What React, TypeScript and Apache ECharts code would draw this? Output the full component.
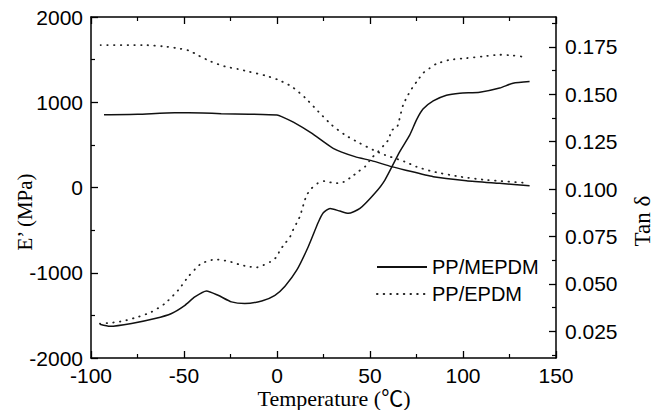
import React, { useEffect, useRef } from "react";
import * as echarts from "echarts";

// ---- Data ----
// Storage modulus E' (MPa), left axis
const mepdmETemp = [-93, -75, -55, -40, -30, -15, 0, 2.5, 8.8, 18.6, 30.2, 41.9, 50.8, 61.6, 68.7, 84, 101.8, 119.7, 135.8];
const mepdmE = [852, 858, 878, 874, 866, 860, 850, 832, 766, 637, 460, 362, 315, 245, 206, 127, 80, 49, 21];

const epdmETemp = [-94.8, -72, -61, -54, -47, -43, -35.6, -28, -21, -15.6, -6.4, 0.7, 7.9, 15, 22.2, 29.4, 36.5, 44.6, 51.7, 58, 68.7, 75, 84, 98.3, 112.6, 133.2];
const epdmE = [1671, 1671, 1655, 1635, 1604, 1557, 1478, 1420, 1389, 1361, 1314, 1263, 1184, 1055, 891, 734, 617, 519, 441, 382, 303, 244, 186, 127, 88, 56];

// Tan delta, right axis
const mepdmTanTemp = [-95.2, -89.8, -78.2, -65.6, -56.7, -49.5, -44.2, -37.9, -31.7, -24.5, -17.3, -8.2, -1.1, 4.3, 10.6, 16.8, 22.2, 24.9, 28.5, 33.8, 38.3, 44.6, 52.6, 58, 66, 71.4, 75, 78.5, 84, 91.1, 98.3, 109, 119.7, 126.9, 135.8];
const mepdmTan = [0.0287, 0.0276, 0.0291, 0.0317, 0.0344, 0.0387, 0.0431, 0.0463, 0.044, 0.0405, 0.0396, 0.041, 0.044, 0.0488, 0.0572, 0.0696, 0.0825, 0.0875, 0.0898, 0.0884, 0.0872, 0.0898, 0.0978, 0.1048, 0.1198, 0.1286, 0.1365, 0.1422, 0.1465, 0.1495, 0.1506, 0.1511, 0.1533, 0.1559, 0.1568];

const epdmTanTemp = [-95.2, -89.8, -82.7, -74.6, -67.5, -60.3, -53.1, -47.8, -44.2, -40.6, -33.4, -26.3, -19.2, -14.5, -10.9, -7.3, -3.7, -0.1, 1.6, 4.3, 7, 8.8, 10.6, 12.4, 13.6, 14.7, 16, 18.6, 21.9, 25.8, 29.4, 32.9, 36.1, 40.1, 43.7, 47.3, 50.8, 54.4, 57.6, 59.8, 61.9, 64.3, 65.5, 67.8, 70.5, 73.2, 75.9, 78.5, 82.1, 85.7, 92.9, 101.8, 110.8, 119.7, 126.9, 133.2];
const epdmTan = [0.029, 0.0294, 0.0304, 0.0326, 0.0352, 0.0396, 0.0467, 0.0537, 0.0576, 0.0608, 0.0629, 0.062, 0.0599, 0.059, 0.0587, 0.0599, 0.0616, 0.0643, 0.0678, 0.0713, 0.0748, 0.0788, 0.0822, 0.0858, 0.0898, 0.0933, 0.0969, 0.1004, 0.1031, 0.1043, 0.1034, 0.1031, 0.1039, 0.1065, 0.1092, 0.1118, 0.1163, 0.1198, 0.1233, 0.1259, 0.1312, 0.1321, 0.1356, 0.1444, 0.1497, 0.1541, 0.1577, 0.1612, 0.1638, 0.1661, 0.1682, 0.1691, 0.17, 0.1709, 0.1705, 0.1697];

const seriesNames = ["PP/MEPDM", "PP/EPDM"];
const rightTickLabels = [0.025, 0.05, 0.075, 0.1, 0.125, 0.15, 0.175];
const rightMinorTicks = [0.0125, 0.0375, 0.0625, 0.0875, 0.1125, 0.1375, 0.1625, 0.1875];
const xTitle = "Temperature (\u2103)";
const leftTitle = "E\u2019 (MPa)";
const rightTitle = "Tan \u03b4";

const zip = (xs: number[], ys: number[]) => xs.map((x, i) => [x, ys[i]]);

export default function App() {
  const ref = useRef<HTMLDivElement>(null);
  useEffect(() => {
    if (!ref.current) return;
    const chart = echarts.init(ref.current, undefined, { renderer: "svg" });
    const sans = "'Liberation Sans', Arial, sans-serif";
    const serif = "'Liberation Serif', 'Times New Roman', 'Noto Sans CJK SC', serif";
    const black = "#000";
    const axisLine = { show: true, onZero: false, lineStyle: { color: black, width: 1.5 } };
    const tick = { show: true, inside: true, length: 7, lineStyle: { color: black, width: 1.3 } };
    const minor = { show: true, splitNumber: 2, length: 4, lineStyle: { color: black, width: 1.2 } };
    const RMIN = 0.0109;
    const RMAX = 0.1908;
    const solid = { color: "#111", width: 1.5 };
    const dotted = { color: "#222", width: 1.8, type: [0.5, 6.2] as any, cap: "round" as const };
    const common = { type: "line" as const, symbol: "none", smooth: 0.2, color: "#111" };
    const plain = (v: number) => String(v);
    chart.setOption({
      animation: false,
      backgroundColor: "#fff",
      grid: { left: 91, right: 97, top: 17, bottom: 52, containLabel: false },
      legend: {
        data: seriesNames,
        orient: "vertical",
        left: 371,
        top: 252,
        itemWidth: 50,
        itemHeight: 14,
        itemGap: 7,
        itemStyle: { opacity: 0 },
        textStyle: { fontSize: 20, fontFamily: sans, color: black },
      },
      xAxis: [
        {
          type: "value", position: "bottom", min: -100, max: 150, interval: 50,
          axisLine, axisTick: tick, minorTick: minor, splitLine: { show: false },
          axisLabel: { fontSize: 21, fontFamily: sans, color: black, margin: 7, formatter: plain },
        },
        {
          type: "value", position: "top", min: -100, max: 150, interval: 50,
          axisLine, axisTick: tick, minorTick: minor, splitLine: { show: false },
          axisLabel: { show: false },
        },
      ],
      yAxis: [
        {
          type: "value", position: "left", min: -2000, max: 2000, interval: 1000,
          axisLine, axisTick: tick, minorTick: minor, splitLine: { show: false },
          axisLabel: { fontSize: 21, fontFamily: sans, color: black, margin: 8, formatter: plain },
        },
        {
          type: "value", position: "right", min: RMIN, max: RMAX,
          axisLine, splitLine: { show: false },
          axisTick: { ...tick, customValues: rightTickLabels },
          axisLabel: {
            fontSize: 21, fontFamily: sans, color: black, margin: 9,
            customValues: rightTickLabels,
            formatter: (v: number) => v.toFixed(3),
          },
        },
        {
          type: "value", position: "right", min: RMIN, max: RMAX,
          axisLine: { show: false, onZero: false }, splitLine: { show: false },
          axisTick: { show: true, inside: true, length: 4, lineStyle: { color: black, width: 1.2 }, customValues: rightMinorTicks },
          axisLabel: { show: false },
        },
      ],
      graphic: [
        { type: "text", x: 334, y: 398, style: { text: xTitle, fontSize: 22, fontFamily: serif, fill: black, align: "center", verticalAlign: "middle" } },
        { type: "text", x: 25, y: 212, rotation: Math.PI / 2, style: { text: leftTitle, fontSize: 21, fontFamily: serif, fill: black, align: "center", verticalAlign: "middle" } },
        { type: "text", x: 642, y: 221, rotation: Math.PI / 2, style: { text: rightTitle, fontSize: 23, fontFamily: serif, fill: black, align: "center", verticalAlign: "middle" } },
      ],
      series: [
        { ...common, name: seriesNames[0], yAxisIndex: 0, data: zip(mepdmETemp, mepdmE), lineStyle: solid },
        { ...common, name: seriesNames[1], yAxisIndex: 0, data: zip(epdmETemp, epdmE), lineStyle: dotted },
        { ...common, name: seriesNames[0], yAxisIndex: 1, data: zip(mepdmTanTemp, mepdmTan), lineStyle: solid },
        { ...common, name: seriesNames[1], yAxisIndex: 1, data: zip(epdmTanTemp, epdmTan), lineStyle: dotted },
      ],
    });
    return () => chart.dispose();
  }, []);
  return <div ref={ref} style={{ position: "fixed", left: 0, top: 0, width: 653, height: 410 }} />;
}
